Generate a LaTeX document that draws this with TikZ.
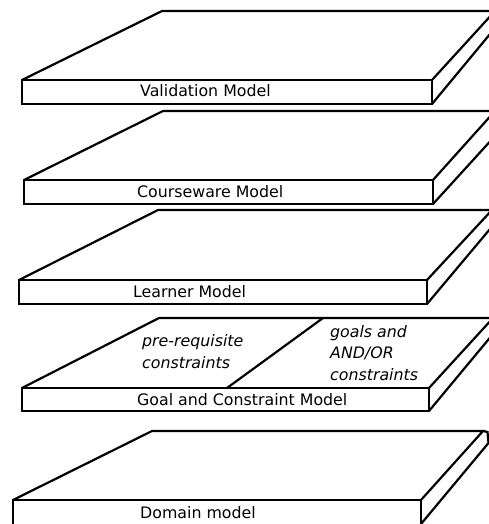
\documentclass[tikz,border=0pt]{standalone}
\usepackage{fontspec}
\setmainfont{DejaVu Sans}
\begin{document}
\begin{tikzpicture}[x=1pt,y=-1pt,
  slab/.style={line width=2.2pt, line join=miter},
  lbl/.style={anchor=base west, inner sep=0pt, font=\fontsize{15.8}{18}\selectfont},
  itl/.style={anchor=base west, inner sep=0pt, align=left, font=\fontsize{15.8}{21.5}\selectfont\itshape}]
\useasboundingbox (0,0) rectangle (489,524);
\clip (0,0) rectangle (489,524);
% Validation Model
\draw[slab] (22,80) rectangle (432,104);
\draw[slab] (22,80) -- (162,11) -- (495,11) -- (432,80);
\draw[slab] (432,104) -- (495,28);
\node[lbl] (val) at (140,96.5) {Validation Model};
% Courseware Model
\draw[slab] (24,180) rectangle (433,204);
\draw[slab] (24,180) -- (163,111) -- (495,111) -- (433,180);
\draw[slab] (433,204) -- (495,136);
\node[lbl] (cw) at (137,197) {Courseware Model};
% Learner Model
\draw[slab] (19,280) rectangle (427,304);
\draw[slab] (19,280) -- (158,210) -- (492,210) -- (427,280);
\draw[slab] (427,304) -- (492,226.6);
\node[lbl] (lm) at (133,297) {Learner Model};
% Goal and Constraint Model
\draw[slab] (22,388) rectangle (429,411);
\draw[slab] (22,388) -- (159,318) -- (493,318) -- (429,388);
\draw[slab] (429,411) -- (493,334);
\draw[slab] (323,318) -- (227,388);
\node[lbl] (gc) at (137,405) {Goal and Constraint Model};
\node[itl] (pre) at (142,368) {pre-requisite\\constraints};
\node[itl] (goal) at (330,380) {goals and\\AND/OR\\constraints};
% Domain model
\draw[slab] (13,530) -- (13,500) -- (421,500) -- (421,530);
\draw[slab] (13,500) -- (152,431) -- (483,431) -- (421,500);
\draw[slab] (483,431) -- (487.5,432) -- (488.5,443) -- (421,524);
\node[lbl] (dm) at (140,518) {Domain model};
\end{tikzpicture}
\end{document}
